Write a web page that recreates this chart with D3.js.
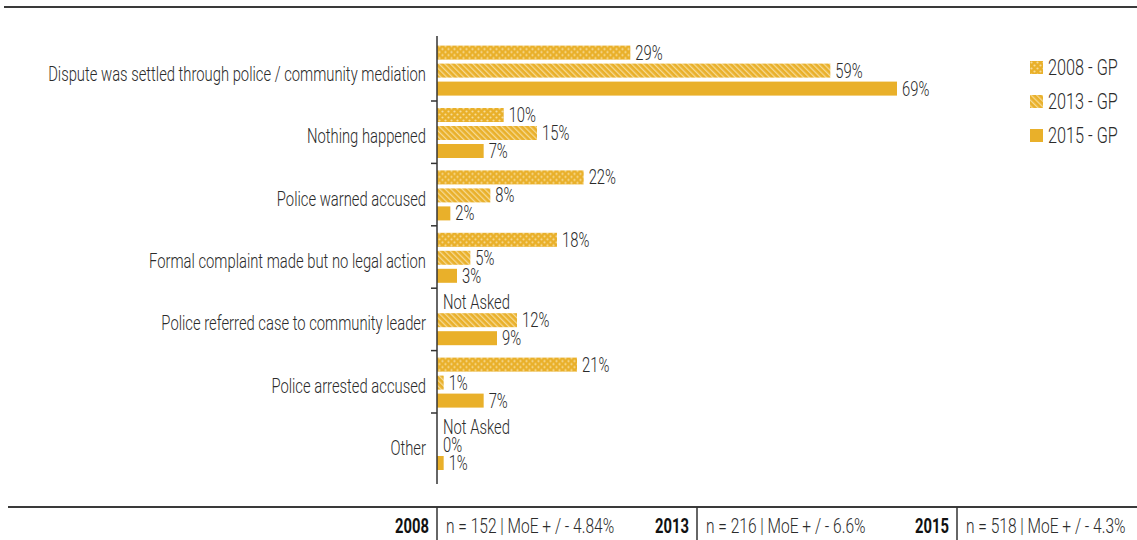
<!DOCTYPE html>
<html>
<head>
<meta charset="utf-8">
<script src="https://cdn.jsdelivr.net/npm/d3@7"></script>
<style>
  html, body { margin: 0; padding: 0; background: #fff; }
  svg text { font-family: Roboto, "Open Sans", sans-serif; font-weight: 300; fill: #2b2b2b; }
</style>
</head>
<body>
<svg id="chart" width="1137" height="540"></svg>
<script>
// Outcome categories, top to bottom
const categories = [
  "Dispute was settled through police / community mediation",
  "Nothing happened",
  "Police warned accused",
  "Formal complaint made but no legal action",
  "Police referred case to community leader",
  "Police arrested accused",
  "Other"
];
// Survey waves
const years = ["2008", "2013", "2015"];
const legendLabels = ["2008 - GP", "2013 - GP", "2015 - GP"];
// Percentages per wave (null = question not asked that year)
const values2008 = [29, 10, 22, 18, null, 21, null];
const values2013 = [59, 15, 8, 5, 12, 1, 0];
const values2015 = [69, 7, 2, 3, 9, 7, 1];
// Sample notes shown in the footer
const footnotes = [
  { year: "2008", text: "n = 152 | MoE + / - 4.84%" },
  { year: "2013", text: "n = 216 | MoE + / - 6.6%" },
  { year: "2015", text: "n = 518 | MoE + / - 4.3%" }
];

const series = [values2008, values2013, values2015];
const gold = "#e9b02a";
const ink = "#333";
const SX = 0.74;   // horizontal squeeze for a condensed look
const FS = 20;

const svg = d3.select("#chart");
const defs = svg.append("defs");

// Condensed text helper: places text at (x, y) and narrows it horizontally
function ctext(parent, x, y, str, opts = {}) {
  const t = parent.append("text")
    .attr("transform", `translate(${x},${y}) scale(${SX},1)`)
    .attr("dy", opts.dy || "0.35em")
    .attr("font-size", opts.size || FS)
    .attr("text-anchor", opts.anchor || "start")
    .text(str);
  if (opts.bold) t.style("font-weight", 700).style("fill", "#111");
  return t;
}

// Dotted fill for 2008
const dots = defs.append("pattern").attr("id", "pat2008")
  .attr("patternUnits", "userSpaceOnUse").attr("width", 6).attr("height", 6);
dots.append("rect").attr("width", 6).attr("height", 6).attr("fill", gold);
dots.append("circle").attr("cx", 1.5).attr("cy", 1.5).attr("r", 1.1).attr("fill", "#f7dc98");
dots.append("circle").attr("cx", 4.5).attr("cy", 4.5).attr("r", 1.1).attr("fill", "#f7dc98");

// Diagonal hatch for 2013
const hatch = defs.append("pattern").attr("id", "pat2013")
  .attr("patternUnits", "userSpaceOnUse").attr("width", 4).attr("height", 4)
  .attr("patternTransform", "rotate(-45)");
hatch.append("rect").attr("width", 4).attr("height", 4).attr("fill", gold);
hatch.append("rect").attr("x", 0).attr("width", 1.3).attr("height", 4).attr("fill", "#f6da94");

const fills = ["url(#pat2008)", "url(#pat2013)", gold];

// Scales
const x0 = 437;
const x = d3.scaleLinear().domain([0, 69]).range([x0, 897]);
const y = d3.scaleBand().domain(categories).range([38.6, 475.4]).padding(0);
const yInner = d3.scaleBand().domain(years).range([7, 57]).paddingInner(0.222).paddingOuter(0);

// Top rule
svg.append("line").attr("x1", 4).attr("x2", 1137).attr("y1", 7).attr("y2", 7)
  .attr("stroke", "#3a3a3a").attr("stroke-width", 2);

// Bars and value labels
const groups = svg.append("g").selectAll("g").data(categories).join("g")
  .attr("transform", d => `translate(0,${y(d)})`);

years.forEach((yr, si) => {
  groups.each(function (cat, ci) {
    const v = series[si][ci];
    const g = d3.select(this);
    const by = yInner(yr);
    const bh = yInner.bandwidth();
    if (v === null) {
      ctext(g, x(0) + 6, by + bh / 2, "Not Asked");
      return;
    }
    g.append("rect").attr("x", x(0)).attr("y", by)
      .attr("width", x(v) - x(0)).attr("height", bh).attr("fill", fills[si]);
    ctext(g, x(v) + (v === 0 ? 6 : 5), by + bh / 2, v + "%");
  });
});

// Category labels
categories.forEach(c => {
  ctext(svg, x0 - 11, y(c) + y.bandwidth() / 2 + 4, c, { anchor: "end" });
});
svg.append("line").attr("x1", x0).attr("x2", x0).attr("y1", 36).attr("y2", 484)
  .attr("stroke", ink).attr("stroke-width", 1.5);
// Separators between categories
svg.append("g").selectAll("line").data(categories.slice(1)).join("line")
  .attr("x1", x0 - 6).attr("x2", x0)
  .attr("y1", d => y(d)).attr("y2", d => y(d))
  .attr("stroke", ink).attr("stroke-width", 1.5);

// Legend
const legend = svg.append("g").attr("transform", "translate(1030,61)");
legendLabels.forEach((lab, i) => {
  const row = legend.append("g").attr("transform", `translate(0,${i * 34})`);
  row.append("rect").attr("width", 13).attr("height", 13).attr("fill", fills[i]);
  ctext(row, 18, 6.5, lab, { size: 22 });
});

// Footer with sample sizes
svg.append("line").attr("x1", 8).attr("x2", 1137).attr("y1", 507).attr("y2", 507)
  .attr("stroke", "#3a3a3a").attr("stroke-width", 2);
const footX = [437, 697, 957];
footnotes.forEach((f, i) => {
  const fx = footX[i];
  svg.append("line").attr("x1", fx).attr("x2", fx).attr("y1", 507).attr("y2", 540)
    .attr("stroke", ink).attr("stroke-width", 1.5);
  ctext(svg, fx - 8, 526, f.year, { anchor: "end", bold: true, size: 20 });
  ctext(svg, fx + 9, 526, f.text, { size: 21 });
});
</script>
</body>
</html>
